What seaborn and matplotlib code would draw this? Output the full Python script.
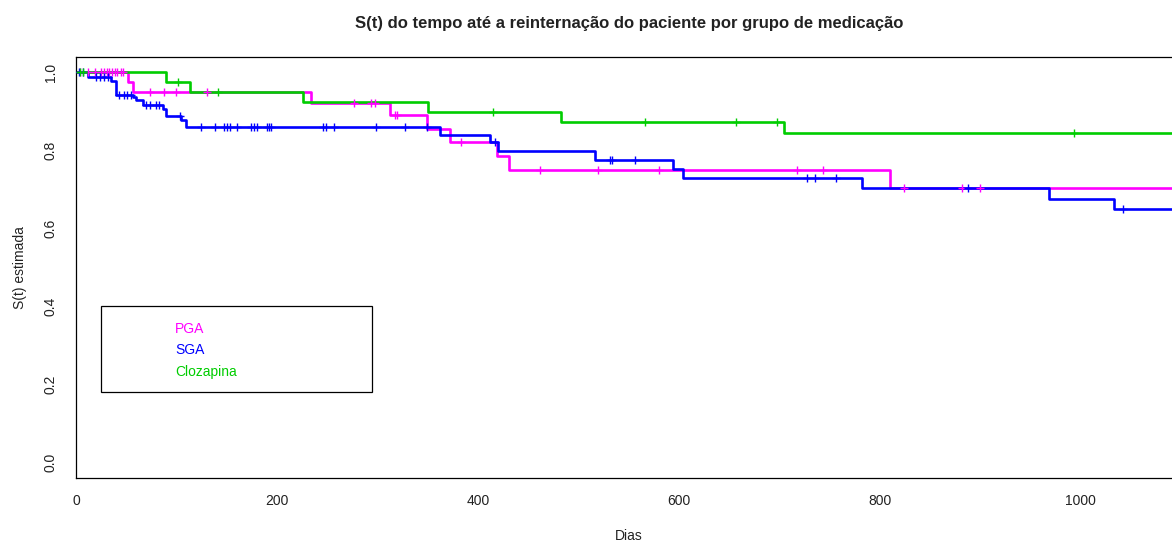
import numpy as np
import pandas as pd
import matplotlib
matplotlib.use("Agg")
import matplotlib.pyplot as plt
from matplotlib.patches import Rectangle
import seaborn as sns

# Kaplan-Meier estimates: event times (days) and survival after each event
pga_times = [52, 57, 234, 313, 349, 372, 419, 431, 810]
pga_surv = [0.975, 0.950, 0.921, 0.890, 0.855, 0.822, 0.786, 0.749, 0.704]
pga_censor = [4, 12, 19, 25, 28, 31, 33, 36, 39, 41, 45, 47,
              74, 88, 100, 130, 277, 294, 298, 318, 320, 383,
              462, 520, 580, 718, 744, 824, 882, 900]

sga_times = [12, 35, 40, 57, 60, 67, 87, 90, 105, 110, 362, 412, 420,
             517, 594, 604, 782, 969, 1033]
sga_surv = [0.988, 0.977, 0.942, 0.937, 0.928, 0.917, 0.905, 0.889, 0.877,
            0.860, 0.840, 0.820, 0.798, 0.776, 0.752, 0.729, 0.703, 0.675,
            0.649]
sga_censor = [3, 7, 20, 24, 28, 32, 43, 48, 51, 55, 70, 74, 80, 83, 104,
              124, 138, 147, 150, 153, 160, 174, 177, 180, 190, 192, 194,
              246, 249, 257, 299, 328, 349, 417, 532, 534, 556, 728, 736,
              757, 888, 1042]

cloz_times = [90, 113, 226, 350, 483, 705]
cloz_surv = [0.976, 0.950, 0.924, 0.899, 0.872, 0.844]
cloz_censor = [4, 7, 102, 141, 415, 566, 657, 698, 993]

follow_up_end = 1101

groups = ["PGA", "SGA", "Clozapina"]
colors = {"PGA": "#FF00FF", "SGA": "#0000FF", "Clozapina": "#00CD00"}
series = {
    "PGA": (pga_times, pga_surv, pga_censor),
    "SGA": (sga_times, sga_surv, sga_censor),
    "Clozapina": (cloz_times, cloz_surv, cloz_censor),
}


def surv_at(times, surv, t):
    idx = np.searchsorted(np.asarray(times), t, side="right") - 1
    return 1.0 if idx < 0 else surv[idx]


step_rows, cens_rows = [], []
for g in groups:
    times, surv, cens = series[g]
    xs = [0] + list(times) + [follow_up_end]
    ys = [1.0] + list(surv) + [surv[-1]]
    for i, (x, y) in enumerate(zip(xs, ys)):
        step_rows.append({"grupo": g, "ordem": i, "dias": x, "surv": y})
    for t in cens:
        cens_rows.append({"grupo": g, "dias": t, "surv": surv_at(times, surv, t)})

steps = pd.DataFrame(step_rows)
censored = pd.DataFrame(cens_rows)

sns.set_theme(style="white")
plt.rcParams["font.family"] = ["Liberation Sans", "DejaVu Sans"]
plt.rcParams["font.size"] = 10

W, H = 1172, 543
fig = plt.figure(figsize=(W / 100, H / 100), dpi=100)
left, right, top, bottom = 76, 1182, 56.7, 477.7
ax = fig.add_axes([left / W, 1 - bottom / H, (right - left) / W, (bottom - top) / H])

sns.lineplot(data=steps, x="dias", y="surv", hue="grupo", hue_order=groups,
             palette=colors, drawstyle="steps-post", estimator=None, sort=False,
             units="grupo", linewidth=1.9, legend=False, ax=ax)
for g in groups:
    sub = censored[censored["grupo"] == g]
    ax.plot(sub["dias"], sub["surv"], linestyle="none", marker="+",
            markersize=6, markeredgewidth=1.0, color=colors[g], zorder=3)

ax.set_xlim(0, follow_up_end)
ax.set_ylim(-0.04, 1.04)
ax.set_xticks([0, 200, 400, 600, 800, 1000])
ax.set_yticks([0.0, 0.2, 0.4, 0.6, 0.8, 1.0])
ax.set_yticklabels(["0.0", "0.2", "0.4", "0.6", "0.8", "1.0"],
                   rotation=90, va="center")
ax.tick_params(axis="both", direction="out", length=5, width=0.8,
               color="black", labelsize=10, labelcolor="#222222")
ax.tick_params(axis="x", pad=7)
ax.tick_params(axis="y", pad=8)
for s in ax.spines.values():
    s.set_visible(True)
    s.set_color("black")
    s.set_linewidth(0.9)

ax.set_xlabel("Dias", fontsize=10, labelpad=15, color="#222222")
ax.set_ylabel("S(t) estimada", fontsize=10, labelpad=12, color="#222222")
ax.set_title("S(t) do tempo até a reinternação do paciente por grupo de medicação",
             fontsize=12, fontweight="bold", pad=21, color="#222222")

# Legend: coloured labels inside a plain box
ax.add_patch(Rectangle((25, 0.18), 269.5, 0.22, fill=False,
                       edgecolor="black", linewidth=0.9, zorder=4))
for i, g in enumerate(groups):
    ax.text(98.5, 0.342 - i * 0.055, g, color=colors[g], fontsize=10,
            va="center", ha="left", zorder=5)

fig.savefig("out.png", dpi=100)
